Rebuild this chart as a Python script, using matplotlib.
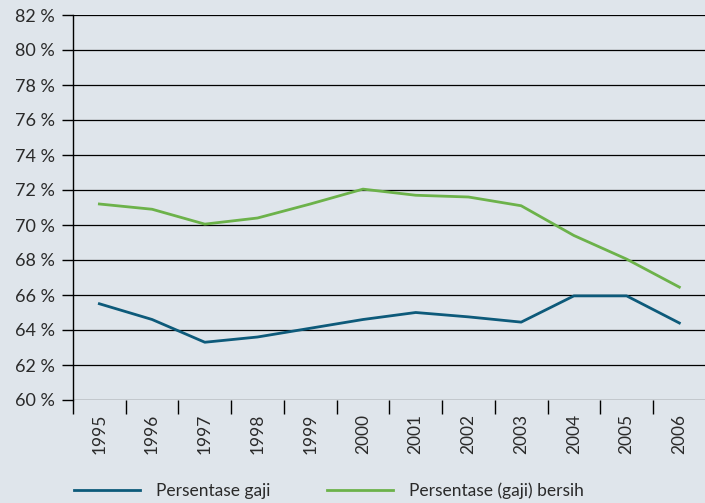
import numpy as np
import matplotlib as mpl
import matplotlib.pyplot as plt
from matplotlib.ticker import FixedLocator

mpl.rcParams['font.family'] = ['Lato', 'DejaVu Sans']

years = ['1995', '1996', '1997', '1998', '1999', '2000',
         '2001', '2002', '2003', '2004', '2005', '2006']
gaji = [65.5, 64.6, 63.3, 63.6, 64.1, 64.6, 65.0, 64.75, 64.45, 65.95, 65.95, 64.4]
gaji_bersih = [71.2, 70.9, 70.05, 70.4, 71.2, 72.05, 71.7, 71.6, 71.1, 69.4, 68.05, 66.45]

bg = '#dfe5eb'
blue = '#0d5a7a'
green = '#6cb24a'

fig = plt.figure(figsize=(7.05, 5.03), dpi=100, facecolor=bg)
ax = fig.add_axes([73/705, 103/503, 1 - 73/705 + 0.001, 385/503])
ax.set_facecolor(bg)

x = np.arange(len(years))
ax.plot(x, gaji, color=blue, lw=2.0, label='Persentase gaji')
ax.plot(x, gaji_bersih, color=green, lw=2.0, label='Persentase (gaji) bersih')

ax.set_ylim(60, 82)
ax.set_yticks(np.arange(60, 83, 2))
ax.set_yticklabels(['{} %'.format(v) for v in range(60, 83, 2)], fontsize=13, color='#2a2a2a')
ax.yaxis.grid(True, color='black', lw=0.9)
ax.set_axisbelow(True)

ax.set_xlim(-0.5, 11.5)
ax.set_xticks(x)
ax.set_xticklabels(years, rotation=90, fontsize=12.5, color='#2a2a2a')
ax.xaxis.set_minor_locator(FixedLocator(np.arange(-0.5, 12, 1)))
ax.tick_params(axis='x', which='major', length=0, pad=10)
ax.tick_params(axis='x', which='minor', length=10, width=1, color='black', direction='out')
ax.tick_params(axis='y', length=8, width=1, color='black', pad=5)

for s in ['top', 'right', 'bottom']:
    ax.spines[s].set_visible(False)
ax.spines['left'].set_color('black')
ax.spines['left'].set_linewidth(1)

fig.legend(loc='center', bbox_to_anchor=(329/705, 1 - 491/503), ncol=2, frameon=False,
           fontsize=12.5, handlelength=3.8, handletextpad=0.9, columnspacing=3.3,
           labelcolor='#2a2a2a')

plt.savefig('out.png', dpi=100, facecolor=bg)
